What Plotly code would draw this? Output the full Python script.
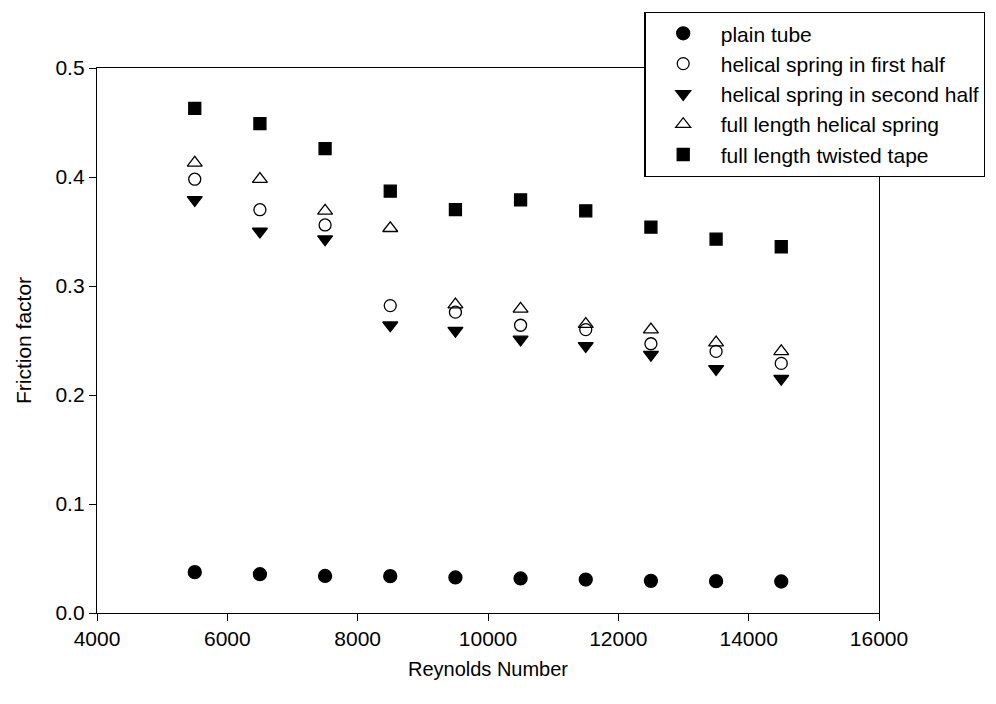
import plotly.graph_objects as go

reynolds = [5500, 6500, 7500, 8500, 9500, 10500, 11500, 12500, 13500, 14500]
plain_tube = [0.0375, 0.0356, 0.034, 0.0338, 0.0326, 0.0317, 0.0307, 0.0295, 0.0292, 0.0289]
spring_first_half = [0.398, 0.370, 0.356, 0.282, 0.276, 0.264, 0.260, 0.247, 0.240, 0.229]
spring_second_half = [0.379, 0.350, 0.343, 0.264, 0.259, 0.251, 0.245, 0.237, 0.224, 0.215]
full_helical_spring = [0.413, 0.398, 0.369, 0.353, 0.283, 0.279, 0.265, 0.260, 0.248, 0.240]
full_twisted_tape = [0.463, 0.449, 0.426, 0.387, 0.370, 0.379, 0.369, 0.354, 0.343, 0.336]

series = [
    ("plain tube", plain_tube, "circle", 13),
    ("helical spring in first half", spring_first_half, "circle-open", 12),
    ("helical spring in second half", spring_second_half, "triangle-down", 13),
    ("full length helical spring", full_helical_spring, "triangle-up-open", 13),
    ("full length twisted tape", full_twisted_tape, "square", 12),
]

fig = go.Figure()
for name, vals, sym, size in series:
    fig.add_trace(go.Scatter(
        x=reynolds, y=vals, mode="markers", name=name,
        marker=dict(symbol=sym, size=size, color="black",
                    line=dict(color="black", width=1.3)),
    ))

font = "Liberation Sans, Arial, sans-serif"
fig.update_layout(
    width=996, height=704,
    margin=dict(l=97, r=117, t=68, b=91, autoexpand=False),
    paper_bgcolor="white", plot_bgcolor="white",
    font=dict(family=font, size=21, color="black"),
    showlegend=True,
    legend=dict(
        x=0.70, y=1.103, xanchor="left", yanchor="top",
        bgcolor="white", bordercolor="black", borderwidth=1.3,
        font=dict(size=21), itemwidth=65, tracegroupgap=0,
    ),
    xaxis=dict(
        range=[4000, 16000], dtick=2000, tick0=4000, tickformat="d",
        showline=True, linecolor="black", linewidth=1.3, mirror=True,
        ticks="outside", ticklen=7, tickcolor="black", tickwidth=1.3,
        showgrid=False, zeroline=False, tickfont=dict(size=21),
        title=dict(text="Reynolds Number", font=dict(size=20), standoff=12),
    ),
    yaxis=dict(
        range=[0, 0.5], dtick=0.1, tick0=0, tickformat=".1f",
        showline=True, linecolor="black", linewidth=1.3, mirror=True,
        ticks="outside", ticklen=7, tickcolor="black", tickwidth=1.3,
        showgrid=False, zeroline=False, tickfont=dict(size=21),
        title=dict(text="Friction factor", font=dict(size=21), standoff=18),
    ),
)

fig.write_html("out.html")
